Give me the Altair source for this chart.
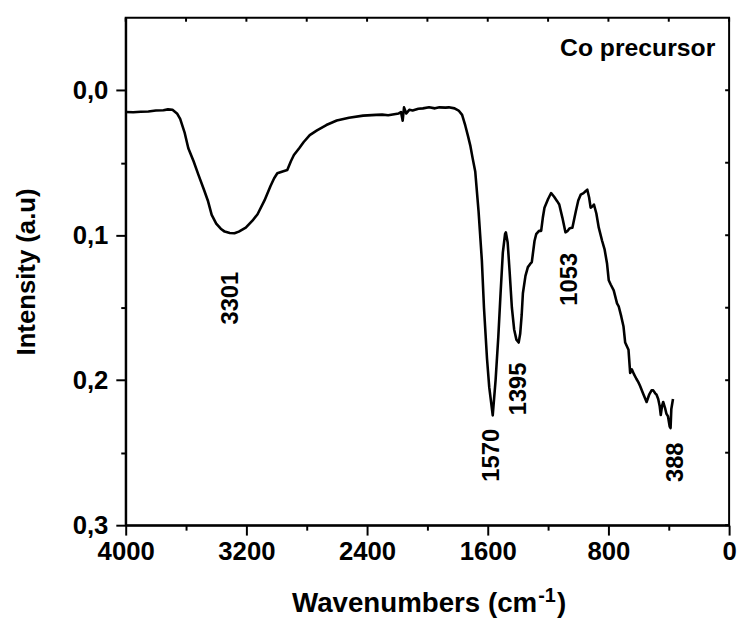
import altair as alt
import pandas as pd

# ---- spectrum ----
wavenumber = [4000, 3950, 3900, 3850, 3800, 3750, 3720, 3690, 3660, 3639, 3610, 3585,
              3550, 3519, 3480, 3454, 3430, 3400, 3370, 3344, 3310, 3279, 3250, 3204,
              3160, 3126, 3080, 3040, 3016, 2995, 2960, 2929, 2905, 2885, 2850, 2820,
              2780, 2732, 2670, 2601, 2520, 2426, 2340, 2300, 2260, 2220, 2190, 2175,
              2164, 2155, 2140, 2120, 2098, 2060, 2030, 1989, 1950, 1920, 1880, 1858,
              1820, 1793, 1770, 1749, 1730, 1716, 1700, 1683, 1661, 1639, 1625, 1605,
              1590, 1567, 1548, 1530, 1515, 1500, 1485, 1480, 1468, 1455, 1440, 1425,
              1410, 1395, 1385, 1375, 1367, 1350, 1334, 1320, 1308, 1290, 1279, 1260,
              1246, 1235, 1224, 1200, 1180, 1160, 1140, 1126, 1105, 1085, 1070, 1060,
              1050, 1039, 1016, 1000, 984, 965, 950, 940, 928, 918, 905, 896, 880, 864,
              842, 825, 809, 798, 785, 765, 743, 732, 715, 700, 689, 667, 656, 645, 630,
              615, 601, 590, 569, 547, 530, 514, 503, 490, 481, 470, 460, 453, 445, 437,
              425, 416, 405, 394, 388, 383, 372]
intensity = [0.0150, 0.0152, 0.0148, 0.0146, 0.0140, 0.0138, 0.0132, 0.0135, 0.0160, 0.0198,
             0.0290, 0.0400, 0.0490, 0.0580, 0.0690, 0.0766, 0.0860, 0.0920, 0.0955, 0.0975,
             0.0985, 0.0986, 0.0975, 0.0948, 0.0900, 0.0855, 0.0760, 0.0660, 0.0607, 0.0573,
             0.0560, 0.0550, 0.0490, 0.0447, 0.0400, 0.0357, 0.0310, 0.0277, 0.0240, 0.0209,
             0.0190, 0.0175, 0.0170, 0.0168, 0.0172, 0.0165, 0.0160, 0.0150, 0.0210, 0.0118,
             0.0160, 0.0135, 0.0140, 0.0128, 0.0125, 0.0118, 0.0125, 0.0118, 0.0120, 0.0118,
             0.0125, 0.0140, 0.0170, 0.0243, 0.0320, 0.0380, 0.0470, 0.0560, 0.0834, 0.1175,
             0.1500, 0.1850, 0.2050, 0.2243, 0.2000, 0.1700, 0.1400, 0.1120, 0.0990, 0.0980,
             0.1050, 0.1250, 0.1500, 0.1650, 0.1720, 0.1740, 0.1680, 0.1550, 0.1400, 0.1280,
             0.1220, 0.1200, 0.1186, 0.1040, 0.0993, 0.0970, 0.0970, 0.0880, 0.0810, 0.0750,
             0.0709, 0.0735, 0.0765, 0.0788, 0.0880, 0.0980, 0.0970, 0.0955, 0.0950, 0.0948,
             0.0834, 0.0760, 0.0720, 0.0710, 0.0695, 0.0686, 0.0740, 0.0810, 0.0800, 0.0788,
             0.0850, 0.0948, 0.1038, 0.1100, 0.1197, 0.1310, 0.1340, 0.1380, 0.1470, 0.1490,
             0.1560, 0.1630, 0.1740, 0.1790, 0.1950, 0.1925, 0.1960, 0.1990, 0.2015, 0.2040,
             0.2095, 0.2150, 0.2100, 0.2070, 0.2070, 0.2090, 0.2100, 0.2130, 0.2180, 0.2240,
             0.2180, 0.2150, 0.2190, 0.2230, 0.2250, 0.2320, 0.2330, 0.2198, 0.2130]

# ---- peak annotations ----
peak_text = ["3301", "1570", "1395", "1053", "388"]
peak_label_x = [3301, 1570, 1395, 1053, 352]
peak_label_y = [0.1434, 0.2518, 0.2060, 0.1304, 0.2566]

# ---- axis ticks ----
x_ticks = [4000, 3600, 3200, 2800, 2400, 2000, 1600, 1200, 800, 400, 0]
y_ticks = [0.0, 0.05, 0.1, 0.15, 0.2, 0.25, 0.3]

FONT = "Liberation Sans"
W, H = 610, 513

spec_df = pd.DataFrame({"w": wavenumber, "i": intensity})
peak_df = pd.DataFrame({"t": peak_text, "w": peak_label_x, "i": peak_label_y})
xt_df = pd.DataFrame({"w": x_ticks})
yt_df = pd.DataFrame({"i": y_ticks})

xs = alt.Scale(domain=[0, 4000], reverse=True, nice=False, zero=False)
ys = alt.Scale(domain=[-0.05, 0.3], reverse=True, nice=False, zero=False)

x_major = "datum.value % 800 === 0"
y_major = "abs(datum.value*10 - round(datum.value*10)) < 0.001"

x_axis = alt.Axis(
    values=x_ticks, format="d", title=None, grid=False,
    labelExpr=f"{x_major} ? datum.label : ''",
    tickSize={"condition": {"test": x_major, "value": 10}, "value": 5},
    labelPadding=4, labelFlush=False, labelOverlap=False,
)
y_axis = alt.Axis(
    values=y_ticks, title="Intensity (a.u)", grid=False,
    labelExpr=f"{y_major} ? replace(format(datum.value, '.1f'), '.', ',') : ''",
    tickSize={"condition": {"test": y_major, "value": 10}, "value": 5},
    labelPadding=8, labelFlush=False, labelOverlap=False,
    titleAngle=270, titleBaseline="alphabetic", titleAlign="center",
    titleX=-92, titleY=H / 2,
)

X = lambda f: alt.X(f"{f}:Q", scale=xs, axis=x_axis)
Y = lambda f: alt.Y(f"{f}:Q", scale=ys, axis=y_axis)

line = alt.Chart(spec_df).mark_line(color="black", strokeWidth=2.6, strokeJoin="round").encode(
    x=X("w"), y=Y("i"), order=alt.Order("w:Q", sort="descending")
)

top_ticks = alt.Chart(xt_df).mark_rule(color="black", strokeWidth=2).encode(
    x=X("w"), y=alt.value(0), y2=alt.value(4)
)
right_ticks = alt.Chart(yt_df).mark_rule(color="black", strokeWidth=2).encode(
    y=Y("i"), x=alt.value(W), x2=alt.value(W - 4)
)

peaks = alt.Chart(peak_df).mark_text(
    angle=270, align="center", baseline="middle", font=FONT, fontSize=24,
    fontWeight="bold", color="black"
).encode(x=X("w"), y=Y("i"), text="t:N")

corner = alt.Chart(pd.DataFrame({"t": ["Co precursor"]})).mark_text(
    align="right", baseline="alphabetic", font=FONT, fontSize=25,
    fontWeight="bold", color="black"
).encode(x=alt.value(596), y=alt.value(38.5), text="t:N")

title_base = 600.5
xt_main = alt.Chart(pd.DataFrame({"t": ["Wavenumbers (cm"]})).mark_text(
    align="right", baseline="alphabetic", font=FONT, fontSize=28,
    fontWeight="bold", color="black"
).encode(x=alt.value(416), y=alt.value(title_base), text="t:N")
xt_sup = alt.Chart(pd.DataFrame({"t": ["-1"]})).mark_text(
    align="left", baseline="alphabetic", font=FONT, fontSize=20,
    fontWeight="bold", color="black"
).encode(x=alt.value(417), y=alt.value(title_base - 10), text="t:N")
xt_close = alt.Chart(pd.DataFrame({"t": [")"]})).mark_text(
    align="left", baseline="alphabetic", font=FONT, fontSize=28,
    fontWeight="bold", color="black"
).encode(x=alt.value(436), y=alt.value(title_base), text="t:N")

chart = alt.layer(
    line, top_ticks, right_ticks, peaks, corner, xt_main, xt_sup, xt_close
).properties(
    width=W, height=H,
    autosize=alt.AutoSizeParams(type="none"),
    padding={"left": 119, "top": 6.5, "right": 10, "bottom": 94},
).configure_view(
    stroke="black", strokeWidth=2
).configure_axis(
    labelFont=FONT, labelFontSize=26, labelFontWeight="bold", labelColor="black",
    titleFont=FONT, titleFontSize=26, titleFontWeight="bold", titleColor="black",
    tickColor="black", tickWidth=2, domainColor="black", domainWidth=2,
)

chart.save("out.html", embed_options={"renderer": "svg", "actions": False})
